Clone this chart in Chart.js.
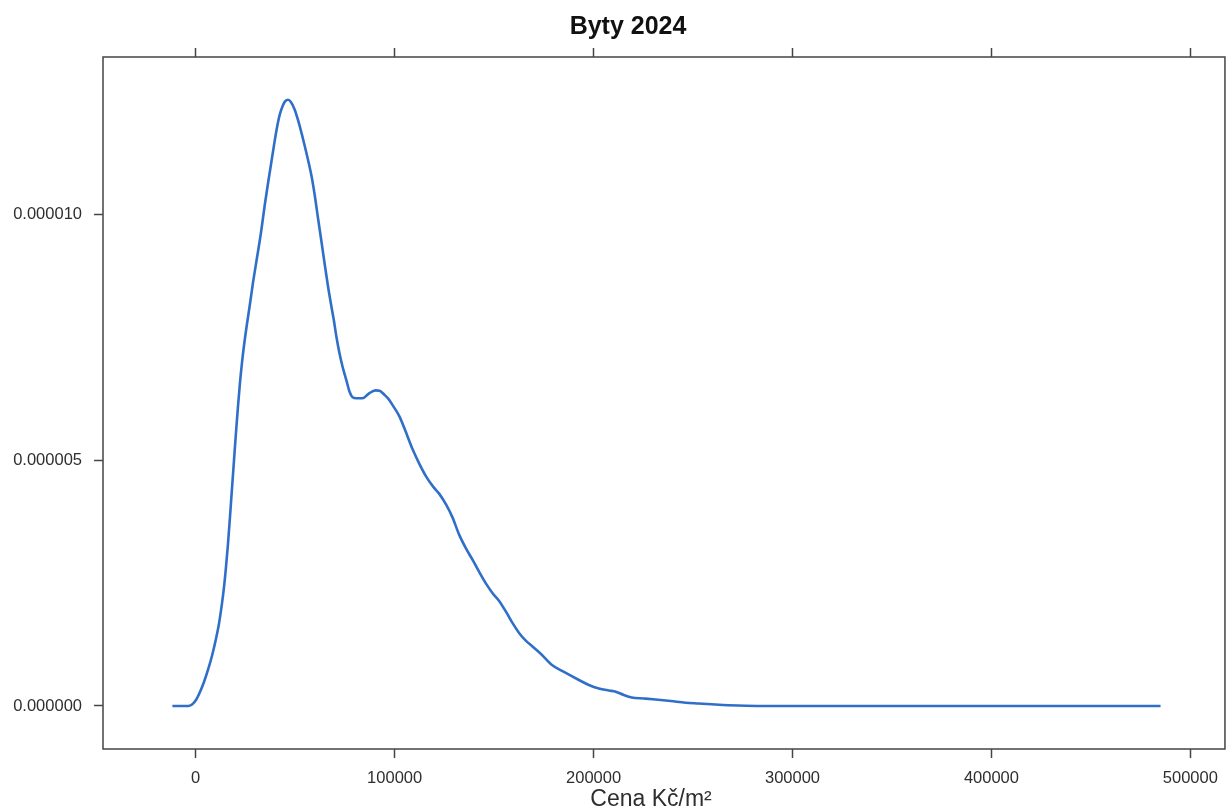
<!DOCTYPE html>
<html>
<head>
<meta charset="utf-8">
<title>Byty 2024</title>
<script src="https://cdn.jsdelivr.net/npm/chart.js@4/dist/chart.umd.min.js"></script>
<style>
  html, body { margin: 0; padding: 0; background: #ffffff; }
  canvas { display: block; }
</style>
</head>
<body>
<canvas id="c" width="1229" height="809"></canvas>
<script>
// Kernel density of apartment prices per m² (Kč/m²)
const priceKc = [
  -11729, -3860, -1855, 150, 2155, 4160, 6165, 8170, 10175, 11679, 13183, 14185,
  15188, 16190, 17193, 18195, 19198, 20200, 21203, 22205, 23208, 24210, 25714,
  27218, 28722, 30727, 32732, 34737, 36240, 37744, 39248, 40752, 42255, 43759,
  45012, 46416, 47769, 49774, 51529, 53283, 54787, 56441, 58295, 59799, 61453,
  63158, 64812, 66466, 68070, 69323, 70827, 72330, 73834, 75689, 77343, 78847,
  80852, 83860, 86867, 90376, 92380, 94887, 96892, 98897, 102406, 105413, 108922,
  112430, 115938, 119447, 122455, 125964, 128972, 132480, 135989, 139498, 142505,
  146014, 149523, 152530, 156039, 159548, 162555, 166064, 169573, 173583, 179097,
  185112, 192633, 197646, 202655, 207668, 211177, 215187, 219197, 225212, 231227,
  238745, 246264, 252780, 259297, 267818, 276339, 290376, 485012
];
const density = [
  0.000e-6, 0.000e-6, 0.031e-6, 0.122e-6, 0.285e-6, 0.488e-6, 0.733e-6, 1.017e-6,
  1.363e-6, 1.669e-6, 2.076e-6, 2.401e-6, 2.808e-6, 3.276e-6, 3.826e-6, 4.396e-6,
  4.965e-6, 5.535e-6, 6.064e-6, 6.553e-6, 6.960e-6, 7.306e-6, 7.753e-6, 8.160e-6,
  8.588e-6, 9.096e-6, 9.605e-6, 10.195e-6, 10.602e-6, 10.989e-6, 11.376e-6,
  11.742e-6, 12.027e-6, 12.210e-6, 12.302e-6, 12.332e-6, 12.291e-6, 12.129e-6,
  11.905e-6, 11.640e-6, 11.396e-6, 11.111e-6, 10.765e-6, 10.399e-6, 9.931e-6,
  9.463e-6, 8.995e-6, 8.547e-6, 8.160e-6, 7.875e-6, 7.489e-6, 7.163e-6, 6.899e-6,
  6.634e-6, 6.390e-6, 6.278e-6, 6.258e-6, 6.258e-6, 6.349e-6, 6.420e-6, 6.410e-6,
  6.329e-6, 6.247e-6, 6.125e-6, 5.891e-6, 5.596e-6, 5.230e-6, 4.925e-6, 4.660e-6,
  4.457e-6, 4.314e-6, 4.090e-6, 3.846e-6, 3.480e-6, 3.195e-6, 2.951e-6, 2.727e-6,
  2.483e-6, 2.279e-6, 2.137e-6, 1.913e-6, 1.669e-6, 1.486e-6, 1.323e-6, 1.201e-6,
  1.058e-6, 0.834e-6, 0.692e-6, 0.529e-6, 0.427e-6, 0.356e-6, 0.315e-6, 0.291e-6,
  0.224e-6, 0.173e-6, 0.153e-6, 0.132e-6, 0.102e-6, 0.067e-6, 0.051e-6, 0.035e-6,
  0.016e-6, 0.004e-6, 0.000e-6, 0.000e-6
];
const xTicks = [0, 100000, 200000, 300000, 400000, 500000];
const yTicks = [0, 0.000005, 0.000010];

const chartTitle = 'Byty 2024';
const xAxisLabel = 'Cena Kč/m²';

const points = priceKc.map((x, i) => ({ x: x, y: density[i] }));

const FONT = '"Liberation Sans", Arial, sans-serif';
const AXIS_COLOR = '#444444';
const TEXT_COLOR = '#2e2e2e';

// Frame around the panel plus the title and the x-axis label
const framePlugin = {
  id: 'frame',
  afterDraw(chart) {
    const { ctx, chartArea: a } = chart;
    ctx.save();
    ctx.strokeStyle = AXIS_COLOR;
    ctx.lineWidth = 1.5;
    ctx.strokeRect(a.left, a.top, a.right - a.left, a.bottom - a.top);

    ctx.fillStyle = '#111111';
    ctx.textAlign = 'center';
    ctx.textBaseline = 'middle';
    ctx.font = 'bold 25px ' + FONT;
    ctx.fillText(chartTitle, 628, 27);

    ctx.fillStyle = TEXT_COLOR;
    ctx.textBaseline = 'alphabetic';
    ctx.font = '23px ' + FONT;
    ctx.fillText(xAxisLabel, 651, 806);
    ctx.restore();
  }
};

const tickGrid = {
  drawOnChartArea: false,
  drawTicks: true,
  tickLength: 9,
  tickColor: AXIS_COLOR,
  tickWidth: 1.5
};

new Chart(document.getElementById('c'), {
  type: 'line',
  data: {
    datasets: [{
      data: points,
      borderColor: '#2f6fc9',
      borderWidth: 2.6,
      pointRadius: 0,
      fill: false,
      cubicInterpolationMode: 'monotone',
      xAxisID: 'x',
      yAxisID: 'y'
    }]
  },
  options: {
    responsive: false,
    animation: false,
    layout: { padding: { left: 0, right: 1, top: 0, bottom: 0 } },
    plugins: { legend: { display: false }, tooltip: { enabled: false }, title: { display: false } },
    scales: {
      x: {
        type: 'linear',
        position: 'bottom',
        min: -46600,
        max: 517400,
        afterBuildTicks: s => { s.ticks = xTicks.map(v => ({ value: v })); },
        afterFit: s => { s.height = 60; },
        grid: tickGrid,
        border: { display: false },
        ticks: {
          padding: 11,
          color: TEXT_COLOR,
          font: { family: FONT, size: 16.5 },
          maxRotation: 0,
          autoSkip: false,
          callback: v => String(v)
        }
      },
      x2: {
        type: 'linear',
        position: 'top',
        min: -46600,
        max: 517400,
        afterBuildTicks: s => { s.ticks = xTicks.map(v => ({ value: v })); },
        afterFit: s => { s.height = 57; },
        grid: tickGrid,
        border: { display: false },
        ticks: { display: false }
      },
      y: {
        type: 'linear',
        position: 'left',
        min: -0.875e-6,
        max: 13.2e-6,
        afterBuildTicks: s => { s.ticks = yTicks.map(v => ({ value: v })); },
        afterFit: s => { s.width = 103; },
        grid: tickGrid,
        border: { display: false },
        ticks: {
          padding: 12,
          color: TEXT_COLOR,
          font: { family: FONT, size: 16.5 },
          autoSkip: false,
          callback: v => v.toFixed(6)
        }
      }
    }
  },
  plugins: [framePlugin]
});
</script>
</body>
</html>
